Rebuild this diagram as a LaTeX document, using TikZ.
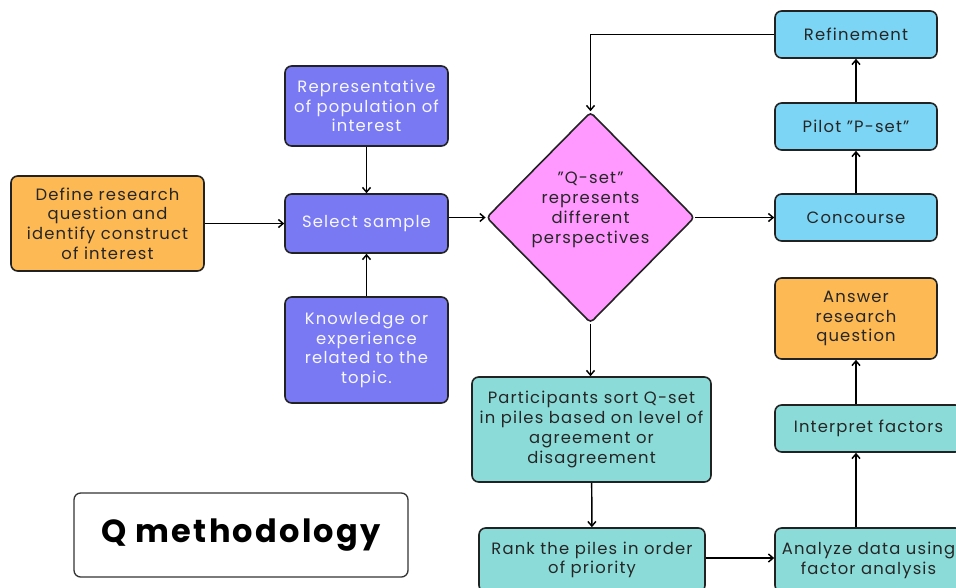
\documentclass[tikz,border=0pt]{standalone}
\usepackage{fontspec}
\setmainfont{Poppins}[LetterSpace=7]
\usetikzlibrary{shapes.geometric,arrows.meta}
\definecolor{orangebox}{HTML}{FDB953}
\definecolor{purplebox}{HTML}{7979F4}
\definecolor{pinkbox}{HTML}{FF99FF}
\definecolor{bluebox}{HTML}{7DD5F5}
\definecolor{tealbox}{HTML}{8BDCD9}
\definecolor{edgegray}{HTML}{222222}
\begin{document}
\begin{tikzpicture}[x=0.75pt,y=-0.75pt]
        \tikzstyle{b} = [draw=edgegray, line width=1.2pt, rounded corners=5pt, align=center, inner sep=2pt, font=\fontsize{12.3}{14.8}\selectfont, text=black!85]
        \tikzstyle{e} = [line width=1.1pt, -{Straight Barb[length=3.5pt,width=6pt]}]
        \clip (0,0) rectangle (956,587);
        \fill[white] (0,0) rectangle (956,587);

        % left part
        \node[b, fill=orangebox, minimum width=144.75pt, minimum height=71.25pt](define) at (107.5,223.5){Define research\\question and\\identify construct\\of interest};
        \node[b, fill=purplebox, text=white!94!purplebox, minimum width=122.25pt, minimum height=60pt](rep) at (366.5,106){Representative\\of population of\\interest};
        \node[b, fill=purplebox, text=white!94!purplebox, minimum width=122.25pt, minimum height=44.25pt](select) at (366.5,223.5){Select sample};
        \node[b, fill=purplebox, text=white!94!purplebox, minimum width=122.25pt, minimum height=79.5pt](know) at (366.5,350){Knowledge or\\experience\\related to the\\topic.};

        % diamond
        \node[b, diamond, fill=pinkbox, rounded corners=3pt, minimum width=150.75pt, minimum height=158.25pt, inner sep=0pt](qset) at (590.5,217.5){"Q-set"\\represents\\different\\perspectives\\\mbox{}};

        % right column
        \node[b, fill=bluebox, minimum width=121.5pt, minimum height=35.25pt](refine) at (856,34.5){Refinement};
        \node[b, fill=bluebox, minimum width=121.5pt, minimum height=35.25pt](pilot) at (856,126.5){Pilot "P-set"};
        \node[b, fill=bluebox, minimum width=121.5pt, minimum height=35.25pt](concourse) at (856,217.5){Concourse};
        \node[b, fill=orangebox, minimum width=121.5pt, minimum height=60.75pt](answer) at (856,318.5){Answer\\research\\question};
        \node[b, fill=tealbox, minimum width=140.25pt, minimum height=35.25pt](interpret) at (868.5,428.5){Interpret factors};
        \node[b, fill=tealbox, minimum width=140.25pt, minimum height=48pt](analyze) at (868.5,560){Analyze data using\\factor analysis};

        % bottom middle
        \node[b, fill=tealbox, minimum width=179.25pt, minimum height=78.75pt](sort) at (591.5,429.5){Participants sort Q-set\\in piles based on level of\\agreement or\\disagreement};
        \node[b, fill=tealbox, minimum width=169.5pt, minimum height=48pt](rank) at (592,560){Rank the piles in order\\of priority};

        % title
        \node[b, fill=white, draw=black!80, line width=1pt, minimum width=250.5pt, minimum height=63pt, font=\fontsize{24}{28}\selectfont\bfseries, text=black](title) at (241,535){Q methodology};

        \draw[e](define)--(select);
        \draw[e](rep)--(select);
        \draw[e](know)--(select);
        \draw[e](select.east |- qset.west)--(qset.west);
        \draw[e](qset.east)--(concourse.west);
        \draw[e](concourse)--(pilot);
        \draw[e](pilot)--(refine);
        \draw[e](refine.west) -| (qset.north);
        \draw[e](qset.south)--(qset.south |- sort.north);
        \draw[e](sort)--(rank);
        \draw[e](rank.east |- 0,558)--(analyze.west |- 0,558);
        \draw[e](analyze.north -| answer.south)--(interpret.south -| answer.south);
        \draw[e](interpret.north -| answer.south)--(answer.south);
\end{tikzpicture}
\end{document}
